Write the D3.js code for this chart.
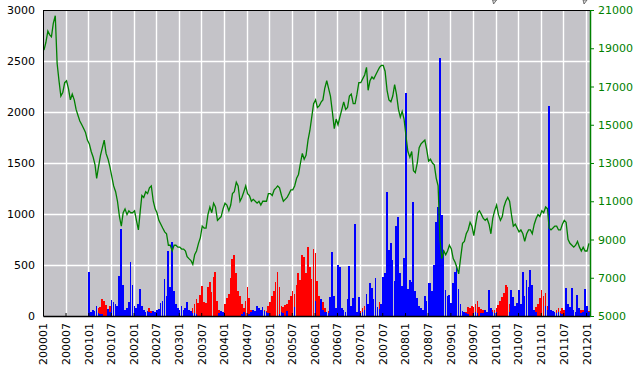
<!DOCTYPE html>
<html>
<head>
<meta charset="utf-8">
<script src="https://cdn.jsdelivr.net/npm/d3@7"></script>
<style>
  body { margin: 0; background: #fff; }
  text { font-family: "DejaVu Sans", Verdana, sans-serif; font-size: 11px; }
</style>
</head>
<body>
<script>
var svgWidth = 640;
var svgHeight = 372;

var margin = {
  top: 10,
  right: 50,
  bottom: 56,
  left: 43
};

var width = svgWidth - margin.left - margin.right;
var height = svgHeight - margin.top - margin.bottom;

// half-month periods from 2000-01 to 2012-01
var firstPeriod = "200001";
var periodCount = 290;

var xTickLabels = ["200001","200007","200101","200107","200201","200207","200301","200307",
  "200401","200407","200501","200507","200601","200607","200701","200707","200801","200807",
  "200901","200907","201001","201007","201101","201107","201201"];
var leftTicks = [0, 500, 1000, 1500, 2000, 2500, 3000];
var rightTicks = [5000, 7000, 9000, 11000, 13000, 15000, 17000, 19000, 21000];

// red bars (one value per half month)
var redVals = [
  0,0,0,0,0,0,0,0,0,0,0,0,0,0,0,0,0,0,0,0,0,0,0,0,
  0,0,0,0,0,80,90,170,150,110,60,100,40,0,0,0,0,0,0,0,0,0,0,0,
  0,0,0,0,30,40,20,30,80,50,0,0,0,0,0,0,0,0,0,0,0,0,0,0,
  10,0,0,0,0,20,40,80,120,170,130,210,290,140,130,280,330,240,380,430,150,60,30,40,
  120,180,220,370,560,600,420,250,200,120,80,150,280,180,60,50,40,30,40,50,40,60,50,100,
  140,200,250,330,430,280,100,90,110,120,160,200,250,220,300,420,350,600,575,420,680,480,360,660,
  614,340,200,150,140,80,40,50,30,0,0,0,0,0,0,0,20,0,0,0,0,0,0,0,
  50,80,100,110,40,0,0,0,0,60,140,80,0,0,0,0,0,0,0,0,0,0,0,0,
  0,0,0,0,0,0,0,0,0,0,0,0,0,0,0,0,0,0,0,0,0,0,0,0,
  0,0,0,0,0,0,20,30,40,90,80,100,90,120,150,90,70,60,40,30,0,30,60,60,
  75,110,150,190,230,300,280,120,60,0,0,0,0,0,0,0,0,0,0,0,40,90,120,180,
  255,200,222,100,40,30,20,30,60,75,50,75,60,40,0,0,0,30,40,0,30,60,60,50,
  60,50
];

// blue bars (one value per half month)
var blueVals = [
  0,0,0,0,0,0,0,0,0,0,0,0,0,0,0,0,0,0,0,0,0,0,0,0,
  430,40,60,50,100,30,20,20,0,0,70,40,160,140,120,100,390,850,300,60,80,140,530,300,
  100,80,120,260,100,60,40,50,40,30,50,40,60,70,130,150,360,200,640,280,730,250,120,80,
  60,100,60,80,140,60,50,30,30,20,0,0,0,0,0,0,0,0,0,0,0,30,50,40,
  0,0,0,0,0,0,0,0,0,20,40,0,0,20,40,60,50,100,80,60,90,50,40,30,
  0,0,0,0,0,20,40,30,0,50,0,0,0,90,0,0,0,0,0,0,0,0,0,0,
  150,0,0,170,60,40,40,30,190,630,200,75,500,480,80,60,40,170,490,100,180,900,40,190,
  30,40,60,220,120,320,270,170,370,90,70,120,385,420,1216,650,720,550,340,880,975,420,290,570,
  2183,260,350,330,1121,250,180,100,80,60,200,150,320,320,250,500,925,1070,2529,990,650,255,200,205,
  130,320,434,500,260,120,50,40,30,20,0,0,30,40,30,0,30,30,60,40,255,80,40,30,
  40,0,0,0,0,0,0,40,255,190,100,130,255,120,434,200,353,280,450,300,60,40,0,0,
  0,0,100,60,2059,60,50,40,30,40,30,20,0,270,120,90,270,60,40,205,80,30,40,260,
  100,40
];

// green line, right axis (one value per half month)
var lineVals = [
  18900,19300,19900,19700,19600,20300,20700,18200,17300,16500,16700,17200,17300,16900,16300,16600,16300,15800,15500,15200,15000,14800,14600,14200,
  14000,13600,13300,12900,12200,12800,13400,13800,14200,13500,13200,12800,12300,11800,11500,11000,10200,9700,10400,10600,10300,10500,10400,10400,
  10500,10000,9500,10500,11300,11200,11500,11400,11700,11800,11000,10600,10400,10000,9800,9600,9400,9300,8700,8700,8400,8700,8700,8600,
  8600,8500,8500,8400,8100,8000,7900,7700,8200,8400,8800,9100,9700,9600,9600,10300,10700,10400,10900,10700,10000,10100,10200,10600,
  10900,10800,10500,10800,11400,11500,12000,11800,11000,11200,11500,11800,11400,11300,11000,11100,11000,10900,11000,10800,11000,11000,11000,11400,
  11400,11300,11600,11700,11800,11700,11300,11000,11100,11200,11400,11600,11600,11800,12200,12400,13000,13500,13200,13400,14200,14700,15400,16100,
  16300,15900,16000,16200,16300,16900,17300,16900,16500,15700,14800,15300,15000,15400,15800,16200,15800,15900,16500,16600,16100,16100,16600,17200,
  17200,17400,17600,18000,16800,17300,17500,17400,17600,17800,18000,18100,18100,17800,16800,16300,16200,16500,17100,16600,15800,15400,15700,15300,
  14400,13600,13300,13600,12600,12500,13000,13800,14000,14100,14200,13700,13100,13200,13000,12900,12200,11800,9000,8000,8400,8200,8400,8700,
  8500,8000,7800,7500,7200,8000,8800,8900,9300,9500,9900,9700,9200,9800,10400,10500,10300,10100,10000,10100,9800,9300,10100,10500,
  10800,10300,10000,10200,10700,11000,11200,11000,10300,9700,9800,9600,9400,9500,9300,8900,9300,9500,9500,9300,9800,10100,10300,10200,
  10500,10400,10700,10600,9600,9500,9600,9700,9700,9500,9500,9800,10000,9900,9000,8800,8700,8600,8700,8900,8600,8400,8600,8400,
  8400,8800
];

var parseMonth = d3.timeParse("%Y%m");
var start = parseMonth(firstPeriod);
var periods = d3.range(periodCount + 1).map(function(i) {
  return new Date(start.getFullYear(), start.getMonth() + Math.floor(i / 2), i % 2 ? 16 : 1);
});

var svg = d3.select("body")
  .append("svg")
  .attr("width", svgWidth)
  .attr("height", svgHeight);

var chartGroup = svg.append("g")
  .attr("transform", `translate(${margin.left}, ${margin.top})`);

var xTimeScale = d3.scaleTime()
  .domain([start, new Date(2012, 1, 2)])
  .range([0, width]);

var yLeftScale = d3.scaleLinear()
  .domain([0, 3000])
  .range([height, 0]);

var yRightScale = d3.scaleLinear()
  .domain([5000, 21000])
  .range([height, 0]);

// plot background
chartGroup.append("rect")
  .attr("width", width)
  .attr("height", height)
  .attr("fill", "#c4c3c8");

// grid
var xTickDates = xTickLabels.map(parseMonth);
chartGroup.append("g")
  .selectAll("line")
  .data(xTickDates.slice(1))
  .enter()
  .append("line")
  .attr("x1", d => Math.round(xTimeScale(d)) + 0.5)
  .attr("x2", d => Math.round(xTimeScale(d)) + 0.5)
  .attr("y1", 0)
  .attr("y2", height)
  .attr("stroke", "#fff")
  .attr("stroke-width", 1.4);

chartGroup.append("g")
  .selectAll("line")
  .data(leftTicks.slice(1, -1))
  .enter()
  .append("line")
  .attr("x1", 0)
  .attr("x2", width)
  .attr("y1", d => Math.round(yLeftScale(d)) + 0.5)
  .attr("y2", d => Math.round(yLeftScale(d)) + 0.5)
  .attr("stroke", "#fff")
  .attr("stroke-width", 1.4);

// bars: keep the period index with each value
function drawBars(vals, color) {
  var rows = vals.map((v, i) => ({i: i, v: v})).filter(d => d.v > 0);
  chartGroup.append("g")
    .attr("shape-rendering", "crispEdges")
    .selectAll("rect")
    .data(rows)
    .enter()
    .append("rect")
    .attr("x", d => xTimeScale(periods[d.i]))
    .attr("width", d => Math.max(1, xTimeScale(periods[d.i + 1]) - xTimeScale(periods[d.i]) - 0.2))
    .attr("y", d => yLeftScale(d.v))
    .attr("height", d => height - yLeftScale(d.v))
    .attr("fill", color);
}
drawBars(redVals, "#ff0000");
drawBars(blueVals, "#0000ff");

// green line
var line = d3.line()
  .x((d, i) => xTimeScale(periods[i]) + 1)
  .y(d => yRightScale(d));

chartGroup.append("path")
  .datum(lineVals)
  .attr("d", line)
  .attr("fill", "none")
  .attr("stroke", "#008000")
  .attr("stroke-width", 1.3);

// axes
var bottomAxis = d3.axisBottom(xTimeScale)
  .tickValues(xTickDates)
  .tickSizeInner(-3)
  .tickSizeOuter(0)
  .tickFormat(d3.timeFormat("%Y%m"));

var xAxisG = chartGroup.append("g")
  .attr("transform", `translate(0, ${height})`)
  .call(bottomAxis);
xAxisG.select(".domain").attr("stroke", "#000").attr("stroke-width", 1.5);
xAxisG.selectAll(".tick line").attr("stroke", "#000");
xAxisG.selectAll("text")
  .attr("transform", "rotate(-90)")
  .attr("text-anchor", "end")
  .attr("x", -7)
  .attr("y", 0)
  .attr("dy", "0.36em")
  .attr("fill", "#000")
  .style("font-size", "11px");

var leftAxis = d3.axisLeft(yLeftScale)
  .tickValues(leftTicks)
  .tickFormat(d3.format("d"))
  .tickSize(0)
  .tickPadding(8);
var leftG = chartGroup.append("g").call(leftAxis);
leftG.select(".domain").attr("stroke", "#000");
leftG.selectAll("text").attr("fill", "#000").style("font-size", "11px").style("font-family", "DejaVu Sans");

var rightAxis = d3.axisRight(yRightScale)
  .tickValues(rightTicks)
  .tickFormat(d3.format("d"))
  .tickSizeInner(4)
  .tickSizeOuter(0)
  .tickPadding(4);
var rightG = chartGroup.append("g")
  .attr("transform", `translate(${width}, 0)`)
  .call(rightAxis);
rightG.select(".domain").attr("stroke", "#008000").attr("stroke-width", 1.5);
rightG.selectAll(".tick line").attr("stroke", "#008000");
rightG.selectAll("text").attr("fill", "#008000").style("font-size", "11px").style("font-family", "DejaVu Sans");

// top border
chartGroup.append("line")
  .attr("x1", 0).attr("x2", width)
  .attr("y1", 0.5).attr("y2", 0.5)
  .attr("stroke", "#000");

// small markers above the plot
svg.append("g")
  .selectAll("path")
  .data([xTimeScale(new Date(2010, 0, 1)) + margin.left - 1, xTimeScale(new Date(2012, 0, 1)) + margin.left - 1])
  .enter()
  .append("path")
  .attr("d", d => `M${d - 2},0 L${d + 2},0 L${d - 1},4 Z`)
  .attr("fill", "#ddd")
  .attr("stroke", "#555")
  .attr("stroke-width", 0.8);
</script>
</body>
</html>
